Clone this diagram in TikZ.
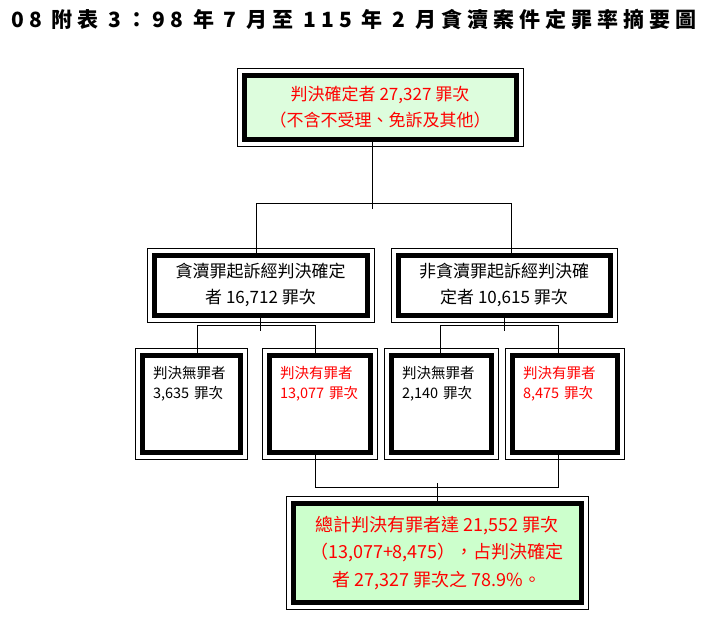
\documentclass[tikz,border=0pt]{standalone}
\usepackage{fontspec}
\setmainfont{Noto Sans CJK TC}
\usepackage{tikz}
\usepackage{xcolor}
\definecolor{boxred}{RGB}{255,0,0}
\definecolor{toplightgreen}{RGB}{221,253,221}
\definecolor{sumlightgreen}{RGB}{204,255,204}
\tikzstyle{frame} = [draw=black, line width=5pt, inner sep=0pt]
\tikzstyle{mainbox} = [frame, align=center, font=\fontsize{17}{26}\selectfont]
\tikzstyle{leaf} = [frame, fill=white, align=left, inner xsep=11pt, inner ysep=10pt, text height=13pt, text depth=64pt, font=\fontsize{14.5}{20}\selectfont]
\tikzstyle{conn} = [line width=1pt, draw=black]

\begin{document}
\begin{tikzpicture}[x=1pt, y=-1pt]
\useasboundingbox (0,0) rectangle (710,618);
% Title
\node[font=\fontsize{21}{24}\selectfont\bfseries\addfontfeature{LetterSpace=24}] (title) at (354,19) {08 附表 3：98 年 7 月至 115 年 2 月貪瀆案件定罪率摘要圖};

% Totals
\node[mainbox, fill=toplightgreen, text=boxred, minimum width=272pt, minimum height=63pt] (top) at (380,107.5) {判決確定者 27,327 罪次\\（不含不受理、免訴及其他）};
\node[mainbox, fill=white, minimum width=213pt, minimum height=60pt] (midl) at (260.5,285) {貪瀆罪起訴經判決確定\\者 16,712 罪次};
\node[mainbox, fill=white, minimum width=212pt, minimum height=60pt] (midr) at (504,285) {非貪瀆罪起訴經判決確\\定者 10,615 罪次};

% Verdicts
\node[leaf, text width=76pt] (b1) at (191,403.5) {判決無罪者\\3,635 罪次};
\node[leaf, text width=79pt, text=boxred] (b2) at (319.5,403.5) {判決有罪者\\13,077 罪次};
\node[leaf, text width=78pt] (b3) at (441,403.5) {判決無罪者\\2,140 罪次};
\node[leaf, text width=83pt, text=boxred] (b4) at (564.5,403.5) {判決有罪者\\8,475 罪次};

% Summary
\node[mainbox, fill=sumlightgreen, text=boxred, font=\fontsize{18}{27.5}\selectfont, minimum width=288pt, minimum height=99pt] (total) at (437,553) {總計判決有罪者達 21,552 罪次\\（13,077+8,475），占判決確定\\者 27,327 罪次之 78.9\%。};

% Outer thin frames
\foreach \n in {top,midl,midr,b1,b2,b3,b4,total}
  \draw[line width=1pt] ([shift={(-4.5,-4.5)}]\n.north west) rectangle ([shift={(4.5,4.5)}]\n.south east);

% Connections
\draw[conn] ([xshift=-8pt]top.south) -- ++(0,67);
\draw[conn] ([xshift=-4.5pt]midl.north) -- ++(0,-49) -| ([xshift=7pt]midr.north);
\draw[conn] (midl.south) -- ++(0,13);
\draw[conn] ([xshift=6.5pt]b1.north) -- ++(0,-27) -| ([xshift=-4.5pt]b2.north);
\draw[conn] (midr.south) -- ++(0,13);
\draw[conn] ([xshift=-1pt]b3.north) -- ++(0,-27) -| ([xshift=-6.5pt]b4.north);
\draw[conn] ([xshift=-4.5pt]b2.south) -- ++(0,33) -| ([xshift=-6.5pt]b4.south);
\draw[conn] (total.north) -- ++(0,-18);
\end{tikzpicture}
\end{document}
